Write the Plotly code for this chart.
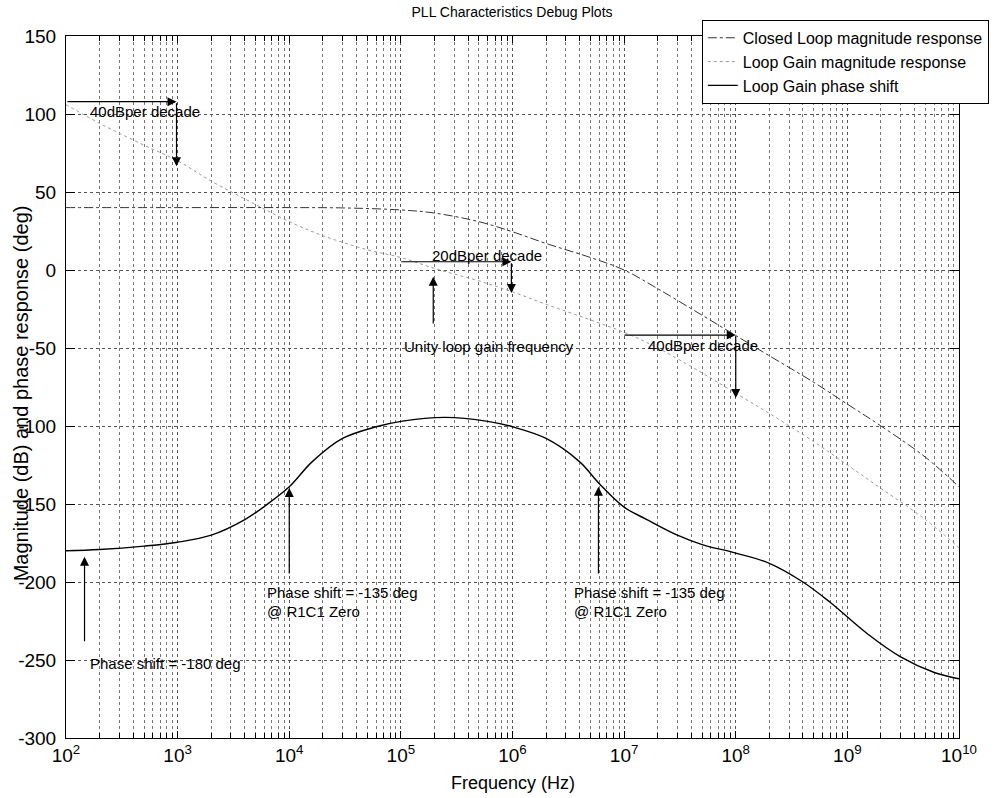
import plotly.graph_objects as go

# ---------------- data ----------------
cl_freq = [1e2, 1e3, 1e4, 3e4, 1e5, 2e5, 5e5, 1e6, 2e6, 5e6, 1e7, 2e7, 5e7,
           1e8, 2e8, 5e8, 1e9, 2e9, 5e9, 1e10]
cl_mag = [40, 40, 40, 39.8, 38.5, 36.5, 31, 24.5, 17, 8, 0, -12, -29,
          -42, -55, -72, -86, -100, -120, -139]

lg_freq = [1e2, 2e2, 5e2, 1e3, 2e3, 5e3, 1e4, 2e4, 5e4, 1e5, 2e5, 5e5, 1e6,
           2e6, 5e6, 1e7, 2e7, 5e7, 1e8, 2e8, 5e8, 1e9, 2e9, 5e9, 1e10]
lg_mag = [106, 94, 80, 70, 57, 42, 31, 22, 13, 8, 1, -7, -14,
          -22, -32, -40, -50, -66, -79, -92, -110, -125, -140, -160, -178]

ph_freq = [1e2, 2e2, 5e2, 1e3, 2e3, 4e3, 6e3, 1e4, 1.6e4, 3e4, 6e4, 1e5, 2.5e5,
           6e5, 1e6, 2e6, 4e6, 6e6, 1e7, 1.6e7, 3e7, 5e7, 1e8, 2e8, 4e8, 7e8,
           1.5e9, 3e9, 6e9, 1e10]
ph_deg = [-180, -179.2, -177, -174.5, -170, -160, -151.5, -139, -123, -108, -100.5, -97, -94.5,
          -97, -100.5, -108, -123, -137, -152, -160, -170, -176, -181.5, -188, -200, -213,
          -233, -248, -258, -262]

series_names = ["Closed Loop magnitude response",
                "Loop Gain magnitude response",
                "Loop Gain phase shift"]

x_tickvals = [1e2, 1e3, 1e4, 1e5, 1e6, 1e7, 1e8, 1e9, 1e10]
x_ticktext = ["10<sup>2</sup>", "10<sup>3</sup>", "10<sup>4</sup>", "10<sup>5</sup>",
              "10<sup>6</sup>", "10<sup>7</sup>", "10<sup>8</sup>", "10<sup>9</sup>",
              "10<sup>10</sup>"]
y_tickvals = [150, 100, 50, 0, -50, -100, -150, -200, -250, -300]
y_ticktext = ["150", "100", "50", "0", "-50", "-100", "-150", "-200", "-250", "-300"]

# arrows: (head_freq_log, head_val, tail_freq_log, tail_val)
arrows = [
    (2.99, 107.9, 2.0, 107.9), (2.99, 66.5, 2.99, 107.9),
    (5.99, 5.3, 4.99, 5.3), (5.99, -14.8, 5.99, 5.3),
    (5.29, -4.3, 5.29, -35.3),
    (8.0, -41.7, 6.99, -41.7), (8.0, -82, 8.0, -41.7),
    (4.0, -139.7, 4.0, -195.5),
    (6.77, -139, 6.77, -195.5),
    (2.166, -183.8, 2.166, -239),
]
# text labels: (text, left_freq_log, value)
labels = [
    ("40dBper decade", 2.197, 101.5),
    ("20dBper decade", 5.26, 9.6),
    ("Unity loop gain frequency", 5.008, -49.2),
    ("40dBper decade", 7.20, -48.7),
    ("Phase shift = -135 deg", 3.78, -206.5),
    ("@ R1C1 Zero", 3.78, -219),
    ("Phase shift = -135 deg", 6.53, -206.5),
    ("@ R1C1 Zero", 6.53, -219),
    ("Phase shift = -180 deg", 2.20, -252),
]

FONT = "Liberation Sans, Arial, Helvetica, sans-serif"

fig = go.Figure()
fig.add_trace(go.Scatter(x=cl_freq, y=cl_mag, mode="lines", name=series_names[0],
                         line=dict(color="#333333", width=1, dash="dashdot", shape="spline")))
fig.add_trace(go.Scatter(x=lg_freq, y=lg_mag, mode="lines", name=series_names[1],
                         line=dict(color="#9a9a9a", width=1, dash="dot", shape="spline")))
fig.add_trace(go.Scatter(x=ph_freq, y=ph_deg, mode="lines", name=series_names[2],
                         line=dict(color="#000000", width=1.4, shape="spline")))

for hx, hy, tx, ty in arrows:
    fig.add_annotation(x=hx, y=hy, ax=tx, ay=ty, xref="x", yref="y", axref="x", ayref="y",
                       text="", showarrow=True, arrowhead=2, arrowsize=1.5,
                       arrowwidth=1.2, arrowcolor="#000000", standoff=0, startstandoff=0)

for txt, lx, ly in labels:
    fig.add_annotation(x=lx, y=ly, xref="x", yref="y", text=txt, showarrow=False,
                       xanchor="left", yanchor="middle",
                       font=dict(family=FONT, size=15, color="#000000"))

fig.add_annotation(x=0.5, y=-0.064, xref="paper", yref="paper", text="Frequency (Hz)",
                   showarrow=False, xanchor="center", yanchor="middle",
                   font=dict(family=FONT, size=18, color="#000000"))
fig.add_annotation(x=-0.0504, y=0.491, xref="paper", yref="paper",
                   text="Magnitude (dB) and phase response (deg)", textangle=-90,
                   showarrow=False, xanchor="center", yanchor="middle",
                   font=dict(family=FONT, size=20, color="#000000"))

grid_common = dict(showgrid=True, gridcolor="#555555", griddash="dot", gridwidth=1,
                   showline=True, linecolor="#000000", linewidth=1, mirror="ticks",
                   ticks="inside", tickcolor="#000000", zeroline=False,
                   tickfont=dict(family=FONT, size=19, color="#000000"))

fig.update_xaxes(type="log", range=[2, 10], tickvals=x_tickvals, ticktext=x_ticktext,
                 ticklen=7, **grid_common,
                 minor=dict(dtick="D1", showgrid=True, gridcolor="#777777", griddash="dot",
                            gridwidth=1, ticks="inside", ticklen=5, tickcolor="#000000"))
fig.update_yaxes(range=[-300, 150], tickvals=y_tickvals, ticktext=y_ticktext,
                 ticklen=9, ticklabelstandoff=5, **grid_common)

fig.update_layout(
    width=1004, height=798,
    margin=dict(l=66, r=45, t=36, b=60, pad=0),
    paper_bgcolor="#ffffff", plot_bgcolor="#ffffff",
    font=dict(family=FONT, color="#000000"),
    title=dict(text="PLL Characteristics Debug Plots", x=0.51, xanchor="center",
               y=1 - 12 / 798, yanchor="middle", yref="container",
               font=dict(family=FONT, size=14, color="#000000")),
    showlegend=True,
    legend=dict(x=0.712, y=1.023, xanchor="left", yanchor="top",
                bgcolor="#ffffff", bordercolor="#000000", borderwidth=1,
                font=dict(family=FONT, size=16, color="#000000"),
                itemwidth=30, tracegroupgap=0),
)

fig.write_html("out.html")
